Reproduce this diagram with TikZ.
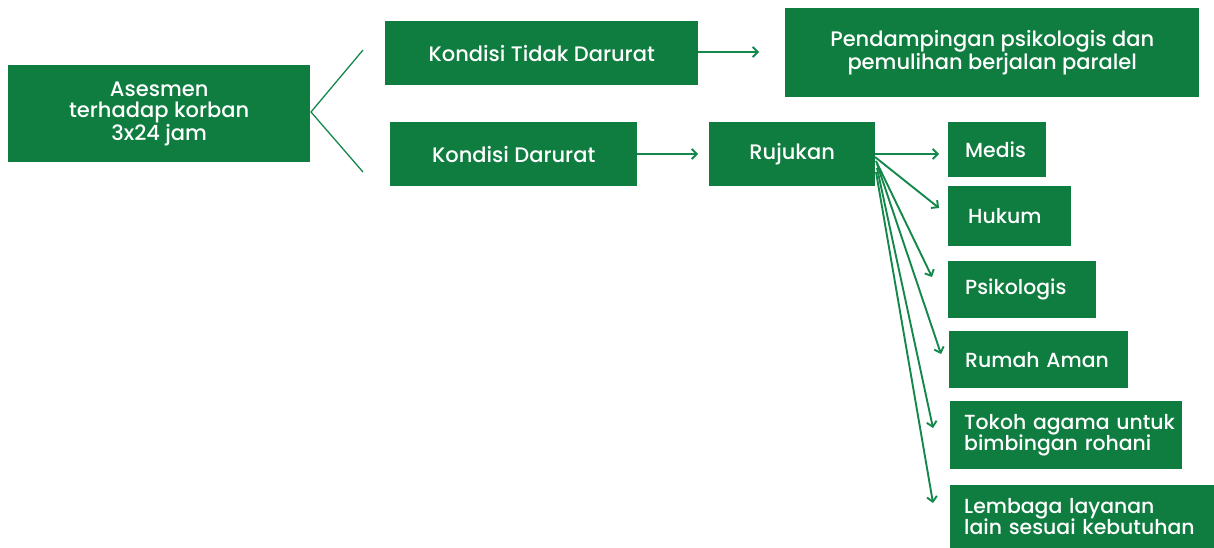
\documentclass[tikz,border=0pt]{standalone}
\usepackage{fontspec}
\setmainfont{Poppins}[UprightFont=* Medium]
\usetikzlibrary{arrows.meta}
\definecolor{gr}{HTML}{0F7D40}
\definecolor{ln}{HTML}{14884A}
\begin{document}
\begin{tikzpicture}[x=1pt,y=-1pt,
  box/.style={fill=gr,text=white,draw=none,inner sep=0pt,anchor=north west,
    font=\fontsize{21}{21}\selectfont,align=center},
  lbox/.style={box,align=left,inner ysep=0pt,font=\fontsize{20.4}{21.5}\selectfont},
  arr/.style={draw=ln,line width=1.9pt,-{Straight Barb[length=5pt,width=10pt,line width=1.9pt]}},
  fork/.style={draw=ln,line width=1.3pt}]
\useasboundingbox (0,0) rectangle (1214,548);
% main boxes
\node[box,minimum width=302pt,minimum height=97pt] (ases) at (8,65) {Asesmen\\terhadap korban\\3x24 jam};
\node[box,minimum width=313pt,minimum height=64pt] (ktd) at (385,21) {Kondisi Tidak Darurat};
\node[box,minimum width=414pt,minimum height=89pt] (pend) at (785,8) {Pendampingan psikologis dan\\pemulihan berjalan paralel};
\node[box,minimum width=247pt,minimum height=64pt] (kd) at (390,122) {Kondisi Darurat};
\node[box,minimum width=166pt,minimum height=64pt] (ruj) at (709,122) {Rujukan};
% children
\node[lbox,minimum height=55pt,inner xsep=17pt,text width=64pt] (medis) at (948,122) {\mbox{Medis}};
\node[lbox,minimum height=60pt,inner xsep=20pt,text width=83pt] (hukum) at (948,186) {\mbox{Hukum}};
\node[lbox,minimum height=57pt,inner xsep=17pt,text width=114pt] (psi) at (948,261) {\mbox{Psikologis}};
\node[lbox,minimum height=57pt,inner xsep=16pt,text width=147pt] (rumah) at (949,331) {\mbox{Rumah Aman}};
\node[lbox,minimum height=68pt,inner xsep=14pt,text width=204pt] (tokoh) at (950,401) {\mbox{Tokoh agama untuk}\\\mbox{bimbingan rohani}};
\node[lbox,minimum height=63pt,inner xsep=14pt,text width=236pt] (lemb) at (950,485) {\mbox{Lembaga layanan}\\\mbox{lain sesuai kebutuhan}};
% fork
\coordinate (apex) at (311,112);
\coordinate (ftop) at (363,50);
\coordinate (fbot) at (363,172);
\draw[fork] (ftop) -- (apex) -- (fbot);
% arrows
\coordinate (t1) at (759,52);
\draw[arr] (ktd.east |- t1) -- (t1);
\coordinate (t2) at (698,154);
\draw[arr] (kd.east |- t2) -- (t2);
\coordinate (s1) at (875,154);
\coordinate (s2) at (875,157);
\coordinate (s3) at (876,161);
\coordinate (s4) at (877,164);
\coordinate (s5) at (877,168);
\coordinate (s6) at (876,172);
\coordinate (e1) at (939,154);
\coordinate (e2) at (939,208);
\coordinate (e3) at (932,277);
\coordinate (e4) at (941,354);
\coordinate (e5) at (933,428);
\coordinate (e6) at (933,503);
\draw[arr] (s1) -- (e1);
\draw[arr] (s2) -- (e2);
\draw[arr] (s3) -- (e3);
\draw[arr] (s4) -- (e4);
\draw[arr] (s5) -- (e5);
\draw[arr] (s6) -- (e6);
\end{tikzpicture}
\end{document}
